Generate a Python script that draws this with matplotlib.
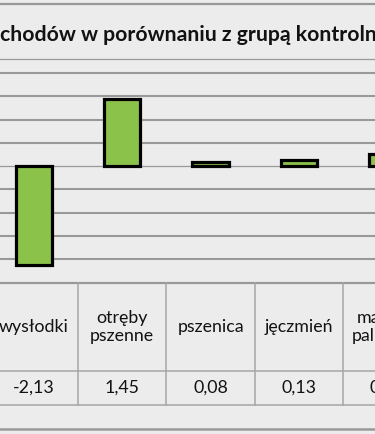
import numpy as np
import matplotlib.pyplot as plt

# data (cropped Excel chart with data table)
categories = ["wysłodki", "otręby\npszenne", "pszenica", "jęczmień", "makuch\npalmowy"]
values = [-2.13, 1.45, 0.08, 0.13, 0.25]
value_labels = ["-2,13", "1,45", "0,08", "0,13", "0,25"]
title = "chodów w porównaniu z grupą kontrolną"

W, H = 375, 434
bg = "#ececec"
grid_col = "#999999"
txt_col = "#121212"
font = "Lato"

fig = plt.figure(figsize=(W / 100, H / 100), dpi=100, facecolor=bg)

def fx(px):
    return px / W

def fy(py):
    return 1 - py / H

# x: one category = 88.3 px, first category centre at x=34 px
cat_w = 88.3
x_left = 34 - cat_w / 2
x_right = x_left + cat_w * 5
ax_w = fx(x_right) - fx(x_left)

# plot area: zero at y=166, 0.5 step = 23.3 px
y_top, y_bot = 59.0, 282.5
ax = fig.add_axes([fx(x_left), fy(y_bot), ax_w, (y_bot - y_top) / H])
ax.set_facecolor(bg)
ax.set_xlim(-0.5, 4.5)
ax.set_ylim(-2.5, 2.3)
for v in np.arange(-2.0, 2.01, 0.5):
    if abs(v) < 1e-9:
        continue
    ax.axhline(v, color=grid_col, lw=1.5, zorder=1)
ax.axhline(0, color=grid_col, lw=0.9, zorder=1)
ax.axhline(2.3, color=grid_col, lw=0.9, zorder=1, clip_on=False)
ax.bar(range(len(values)), values, width=0.41, color="#8bc34a",
       edgecolor="black", linewidth=2.3, zorder=3)
ax.set_axis_off()

# data table underneath, y in pixels (top-down)
tb = fig.add_axes([fx(x_left), 0, ax_w, 1])
tb.set_xlim(-0.5, 4.5)
tb.set_ylim(H, 0)
tb.set_axis_off()
tb.patch.set_alpha(0)
tab_col = "#a6a6a6"
tb.plot([-1, 6], [282.8, 282.8], color=grid_col, lw=1.6, clip_on=False)
tb.plot([-1, 6], [371, 371], color=tab_col, lw=1.1, clip_on=False)
tb.plot([-1, 6], [405, 405], color=tab_col, lw=1.1, clip_on=False)
for k in range(-1, 6):
    tb.plot([k + 0.5, k + 0.5], [283, 405], color=tab_col, lw=1.1, clip_on=False)
for i, (c, v) in enumerate(zip(categories, value_labels)):
    tb.text(i, 327, c, ha="center", va="center", fontsize=12.8,
            family=font, color=txt_col, linespacing=1.2)
    tb.text(i, 388, v, ha="center", va="center", fontsize=12.8,
            family=font, color=txt_col)

# outer frame lines (top and bottom of the crop)
fig.add_artist(plt.Line2D([0, 1], [fy(3.5), fy(3.5)], color=grid_col, lw=1.6))
fig.add_artist(plt.Line2D([0, 1], [fy(428.5), fy(428.5)], color=grid_col, lw=1.8))

fig.text(0, fy(35), title, ha="left", va="center", fontsize=15.3,
         fontweight="bold", family=font, color=txt_col)

fig.savefig("out.png", dpi=100, facecolor=bg)
